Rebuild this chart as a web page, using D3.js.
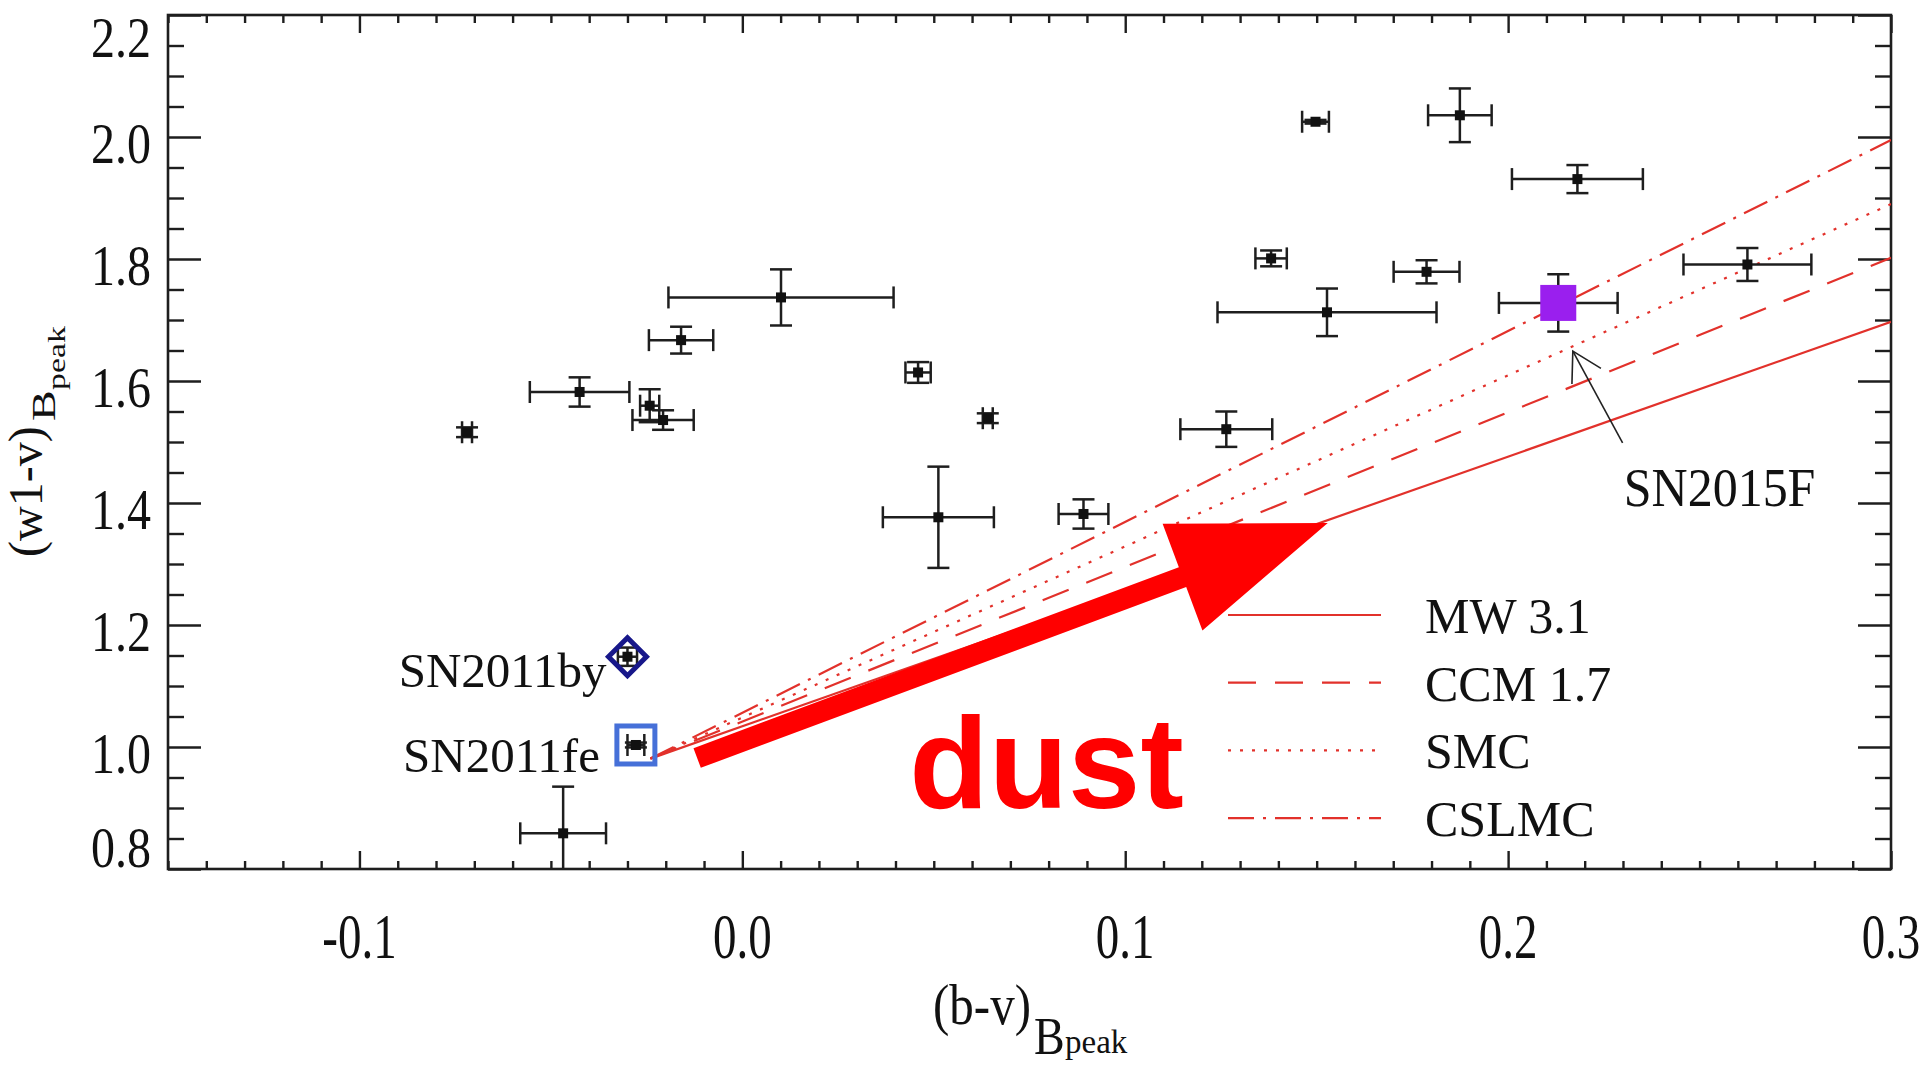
<!DOCTYPE html>
<html><head><meta charset="utf-8">
<script src="https://cdn.jsdelivr.net/npm/d3@7"></script>
<style>html,body{margin:0;padding:0;background:#fff;overflow:hidden}</style>
</head><body>
<svg id="chart" width="1920" height="1066"></svg>
<script>
// Colours at B-band maximum: (b-v) and (w1-v), with 1-sigma uncertainties
const bvPeak  = [-0.0719, -0.0425, -0.0242, -0.0207, -0.0160, 0.0101, 0.0459, 0.0641, 0.0512, 0.0891,
                  0.1264,  0.1381,  0.1497,  0.1527,  0.1787, 0.1874, 0.2181, 0.2625, -0.0468];
const bvErr   = [ 0.0013,  0.0130,  0.0025,  0.0080,  0.0084, 0.0294, 0.0033, 0.0013, 0.0145, 0.0065,
                  0.0120,  0.0041,  0.0035,  0.0286,  0.0086, 0.0083, 0.0171, 0.0167, 0.0112];
const w1vPeak = [ 1.516,   1.582,   1.5595,  1.536,   1.667,  1.737,  1.614,  1.539,  1.3766, 1.382,
                  1.521,   1.801,   2.025,   1.7126,  1.779,  2.0356, 1.931,  1.791,  0.8585];
const w1vErr  = [ 0.008,   0.024,   0.027,   0.016,   0.022,  0.046,  0.017,  0.008,  0.083,  0.024,
                  0.029,   0.013,   0.003,   0.039,   0.019,  0.044,  0.023,  0.027,  0.0765];

// Highlighted supernovae
const sn2011fe = {name: "SN2011fe", bv: -0.0278, bvErr: 0.0022, w1v: 1.0033, w1vErr: 0.004};
const sn2011by = {name: "SN2011by", bv: -0.0300, bvErr: 0.0025, w1v: 1.148,  w1vErr: 0.015};
const sn2015f  = {name: "SN2015F",  bv:  0.2131, bvErr: 0.0155, w1v: 1.728,  w1vErr: 0.047};

// Reddening vectors drawn from the SN2011fe colour out to (b-v) = 0.3
const modelNames  = ["MW 3.1", "CCM 1.7", "SMC", "CSLMC"];
const modelStart  = [-0.024, 0.981];
const modelEndBv  = 0.30;
const modelEndW1v = [1.697, 1.802, 1.890, 1.995];
const modelDash   = [null, "28,19", "3,9", "26,9,3,9"];

// Axis ticks
const xTicks = [-0.1, 0.0, 0.1, 0.2, 0.3];
const xTickLabels = ["-0.1", "0.0", "0.1", "0.2", "0.3"];
const yTicks = [0.8, 1.0, 1.2, 1.4, 1.6, 1.8, 2.0, 2.2];
const yTickLabels = ["0.8", "1.0", "1.2", "1.4", "1.6", "1.8", "2.0", "2.2"];

// Annotation anchors (data space)
const dustArrow = {from: [-0.0118, 0.982], to: [0.1529, 1.3672]};
const dustLabel = {bv: 0.0436, w1v: 0.90, text: "dust"};
const pointer2015f = {from: [0.2299, 1.4985], to: [0.2169, 1.649]};
const label2015f = {bv: 0.2302, w1v: 1.395};

const SERIF = "'Liberation Serif','Times New Roman',serif";
const INK = "#1e1e1e";
const RED = "#e2312b";

const svg = d3.select("#chart");
const L = 168, R = 1891, T = 15, B = 869;
const x = d3.scaleLinear().domain([-0.15, 0.30]).range([L, R]);
const y = d3.scaleLinear().domain([0.8, 2.2]).range([B, T]);

svg.append("defs").append("clipPath").attr("id", "plotClip")
  .append("rect").attr("x", L).attr("y", T).attr("width", R - L).attr("height", B - T);

// text helper: optional stretch factors along / across the glyphs
function txt(g, px, py, s, size, opts = {}) {
  const sx = opts.sx || 1, sy = opts.sy || 1, rot = opts.rot || 0;
  return g.append("text")
    .attr("transform", `translate(${px},${py}) rotate(${rot}) scale(${sx},${sy})`)
    .attr("text-anchor", opts.anchor || "start")
    .attr("font-family", opts.family || SERIF)
    .attr("font-weight", opts.weight || "normal")
    .attr("font-size", size)
    .attr("fill", opts.fill || "#111")
    .text(s);
}

// ---- axes: ticks on all four sides ----
const minorX = d3.range(-0.15, 0.3001, 0.01).map(v => +v.toFixed(3)).filter(v => !xTicks.some(t => Math.abs(t - v) < 1e-6));
const minorY = d3.range(0.8, 2.2001, 0.05).map(v => +v.toFixed(3)).filter(v => !yTicks.some(t => Math.abs(t - v) < 1e-6));

function tickAxis(axisFn, scale, values, size, tr) {
  const g = svg.append("g").attr("transform", tr)
    .call(axisFn(scale).tickValues(values).tickSizeInner(size).tickSizeOuter(0).tickFormat(""));
  g.select(".domain").remove();
  g.selectAll(".tick line").attr("stroke", INK).attr("stroke-width", 2.4);
  return g;
}
tickAxis(d3.axisBottom, x, xTicks, -18, `translate(0,${B})`);
tickAxis(d3.axisBottom, x, minorX, -8, `translate(0,${B})`);
tickAxis(d3.axisTop, x, xTicks, -18, `translate(0,${T})`);
tickAxis(d3.axisTop, x, minorX, -8, `translate(0,${T})`);
tickAxis(d3.axisLeft, y, yTicks, -33, `translate(${L},0)`);
tickAxis(d3.axisLeft, y, minorY, -16, `translate(${L},0)`);
tickAxis(d3.axisRight, y, yTicks, -33, `translate(${R},0)`);
tickAxis(d3.axisRight, y, minorY, -16, `translate(${R},0)`);

svg.append("rect").attr("x", L).attr("y", T).attr("width", R - L).attr("height", B - T)
  .attr("fill", "none").attr("stroke", INK).attr("stroke-width", 2.6);

// tick labels
const labels = svg.append("g");
xTicks.forEach((v, i) => txt(labels, x(v), 958, xTickLabels[i], 47, {anchor: "middle", sy: 1.33}));
yTicks.forEach((v, i) => {
  const base = Math.min(Math.max(y(v) + 26, 57), 867);
  txt(labels, 151, base, yTickLabels[i], 48, {anchor: "end", sy: 1.18});
});

// axis titles
txt(labels, 933, 1024, "(b-v)", 49, {sy: 1.15});
txt(labels, 1034, 1054, "B", 46, {sy: 1.15});
txt(labels, 1065, 1053, "peak", 33, {sy: 1.05});
txt(labels, 42, 557, "(w1-v)", 48, {rot: -90});
txt(labels, 55, 421, "B", 34, {rot: -90, sx: 1.35});
txt(labels, 65, 390, "peak", 26, {rot: -90, sx: 1.3});

// ---- plot contents ----
const plot = svg.append("g").attr("clip-path", "url(#plotClip)");

// reddening vectors
const lineGen = d3.line().x(d => x(d[0])).y(d => y(d[1]));
modelNames.forEach((n, i) => {
  plot.append("path")
    .attr("d", lineGen([modelStart, [modelEndBv, modelEndW1v[i]]]))
    .attr("fill", "none").attr("stroke", RED).attr("stroke-width", 2.2)
    .attr("stroke-dasharray", modelDash[i]);
});

// error bars with caps
const CAP = 11;
function errBar(g, bv, be, wv, we, color) {
  const cx = x(bv), cy = y(wv);
  const x0 = x(bv - be), x1 = x(bv + be), y0 = y(wv + we), y1 = y(wv - we);
  const s = (a, b, c, d) => g.append("line").attr("x1", a).attr("y1", b).attr("x2", c).attr("y2", d)
    .attr("stroke", color).attr("stroke-width", 2.5);
  s(x0, cy, x1, cy); s(x0, cy - CAP, x0, cy + CAP); s(x1, cy - CAP, x1, cy + CAP);
  s(cx, y0, cx, y1); s(cx - CAP, y0, cx + CAP, y0); s(cx - CAP, y1, cx + CAP, y1);
}
function dot(g, bv, wv, size, color) {
  g.append("rect").attr("x", x(bv) - size / 2).attr("y", y(wv) - size / 2)
    .attr("width", size).attr("height", size).attr("fill", color);
}

bvPeak.forEach((v, i) => {
  errBar(plot, v, bvErr[i], w1vPeak[i], w1vErr[i], INK);
  dot(plot, v, w1vPeak[i], 10, "#111");
});

// SN2011fe: open blue square
errBar(plot, sn2011fe.bv, sn2011fe.bvErr, sn2011fe.w1v, sn2011fe.w1vErr, INK);
dot(plot, sn2011fe.bv, sn2011fe.w1v, 10, "#111");
plot.append("rect").attr("x", x(sn2011fe.bv) - 19).attr("y", y(sn2011fe.w1v) - 19)
  .attr("width", 38).attr("height", 38).attr("fill", "none")
  .attr("stroke", "#4670d8").attr("stroke-width", 5);

// SN2011by: open navy diamond
errBar(plot, sn2011by.bv, sn2011by.bvErr, sn2011by.w1v, sn2011by.w1vErr, INK);
dot(plot, sn2011by.bv, sn2011by.w1v, 10, "#111");
{
  const cx = x(sn2011by.bv), cy = y(sn2011by.w1v), h = 19;
  plot.append("path").attr("d", `M${cx},${cy - h}L${cx + h},${cy}L${cx},${cy + h}L${cx - h},${cy}Z`)
    .attr("fill", "none").attr("stroke", "#17178a").attr("stroke-width", 5);
}

// SN2015F: filled purple square
errBar(plot, sn2015f.bv, sn2015f.bvErr, sn2015f.w1v, sn2015f.w1vErr, INK);
plot.append("rect").attr("x", x(sn2015f.bv) - 18).attr("y", y(sn2015f.w1v) - 18)
  .attr("width", 36).attr("height", 36).attr("fill", "#9a1fee");

// point labels
txt(svg, x(sn2011by.bv) - 21, y(1.099), sn2011by.name, 49, {anchor: "end"});
txt(svg, x(sn2011fe.bv) - 36, y(0.9595), sn2011fe.name, 49, {anchor: "end"});
txt(svg, x(label2015f.bv), y(label2015f.w1v), sn2015f.name, 50, {sy: 1.1});

// thin pointer to SN2015F
{
  const tx = x(pointer2015f.to[0]), ty = y(pointer2015f.to[1]);
  const fx = x(pointer2015f.from[0]), fy = y(pointer2015f.from[1]);
  const ang = Math.atan2(fy - ty, fx - tx), len = 33, spread = Math.PI / 6;
  const g = svg.append("g").attr("stroke", "#222").attr("stroke-width", 1.6).attr("fill", "none");
  g.append("line").attr("x1", fx).attr("y1", fy).attr("x2", tx).attr("y2", ty);
  g.append("path").attr("d",
    `M${tx + len * Math.cos(ang - spread)},${ty + len * Math.sin(ang - spread)}L${tx},${ty}` +
    `L${tx + len * Math.cos(ang + spread)},${ty + len * Math.sin(ang + spread)}`);
}

// legend
const leg = svg.append("g");
modelNames.forEach((n, i) => {
  const ly = 615 + i * 67.7;
  leg.append("line").attr("x1", 1228).attr("x2", 1381).attr("y1", ly).attr("y2", ly)
    .attr("stroke", RED).attr("stroke-width", 2.2).attr("stroke-dasharray", modelDash[i]);
  txt(leg, 1425, ly + 18, n, 50);
});

// big "dust" arrow
{
  const ax = x(dustArrow.from[0]), ay = y(dustArrow.from[1]);
  const bx = x(dustArrow.to[0]), by = y(dustArrow.to[1]);
  const dx = bx - ax, dy = by - ay, len = Math.hypot(dx, dy);
  const ux = dx / len, uy = dy / len, nx = -uy, ny = ux;
  const headLen = 155, headHalf = 57, shaftHalf = 10.5;
  const hx = bx - ux * headLen, hy = by - uy * headLen;
  const pts = [
    [ax + nx * shaftHalf, ay + ny * shaftHalf],
    [hx + nx * shaftHalf, hy + ny * shaftHalf],
    [hx + nx * headHalf, hy + ny * headHalf],
    [bx, by],
    [hx - nx * headHalf, hy - ny * headHalf],
    [hx - nx * shaftHalf, hy - ny * shaftHalf],
    [ax - nx * shaftHalf, ay - ny * shaftHalf]
  ];
  svg.append("path").attr("d", "M" + pts.map(p => p.join(",")).join("L") + "Z").attr("fill", "#ff0000");
}
txt(svg, x(dustLabel.bv), y(dustLabel.w1v), dustLabel.text, 130,
  {family: "'Liberation Sans',Arial,sans-serif", weight: "bold", fill: "#ff0000"});
</script>
</body></html>
